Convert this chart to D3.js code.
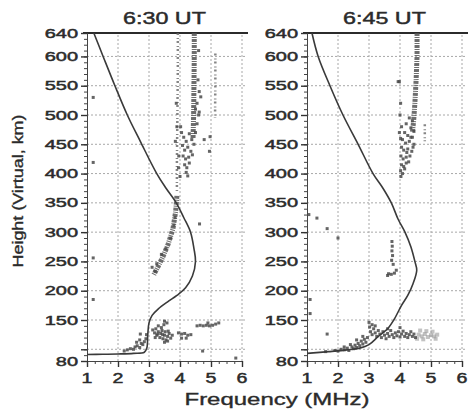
<!DOCTYPE html>
<html><head><meta charset="utf-8">
<script src="https://cdn.jsdelivr.net/npm/d3@7"></script>
<style>body{margin:0;background:#fff}svg{display:block}</style>
</head><body><svg id="c" width="468" height="414"></svg>
<script>
// ---------- data ----------
const freqTicks = [1, 2, 3, 4, 5, 6];
const heightTicks = [80, 150, 200, 250, 300, 350, 400, 450, 500, 550, 600, 640];
const gridHeights = [100, 150, 200, 250, 300, 350, 400, 450, 500, 550, 600];
const panelTitles = ["6:30 UT", "6:45 UT"];
const xLabel = "Frequency (MHz)";
const yLabel = "Height (Virtual, km)";

// model virtual-height curves [MHz, km]
const curve630 = [[1.0,91],[1.5,91.5],[2.0,92],[2.5,93],[2.85,95],[2.93,102],[2.96,125],[3.0,145],[3.1,158],[3.3,169],[3.6,181],[3.9,192],[4.18,205],[4.4,225],[4.5,250],[4.45,272],[4.34,300],[4.12,325],[3.88,350],[3.55,375],[3.25,400],[2.72,455],[2.3,500],[1.9,550],[1.52,600],[1.22,640]];
const curve645 = [[1.0,93],[1.7,96],[2.3,99],[2.7,102],[3.0,108],[3.3,122],[3.6,135],[3.8,150],[4.05,175],[4.25,192],[4.42,212],[4.54,235],[4.48,250],[4.35,275],[4.16,300],[3.94,322],[3.72,350],[3.45,375],[3.13,400],[2.65,450],[2.16,500],[1.74,550],[1.36,600],[1.16,640]];

// observed echo traces (centre lines) [MHz, km]
const trace630Dense = [[4.46,640],[4.46,600],[4.45,550],[4.44,500],[4.42,460]];
const trace630Sparse = [[3.93,640],[3.93,580],[3.92,520],[3.91,470],[3.9,420],[3.9,370]];
const trace630Lower = [[3.9,362],[3.86,335],[3.77,305],[3.62,280],[3.45,258],[3.3,242],[3.15,227]];
const trace630Far = [[5.14,605],[5.14,550],[5.13,495]];
const trace645Dense = [[4.55,640],[4.55,600],[4.52,560],[4.48,520],[4.44,490],[4.4,470]];
const trace645Far = [[4.8,484],[4.8,455]];

// scattered echoes [MHz, km]
const dots630 = [
  [4.05,470],[4.12,462],[4.2,455],[4.3,468],[4.38,458],[4.5,470],[4.08,448],[4.15,440],[4.25,445],[4.35,438],[4.45,450],
  [4.1,430],[4.18,425],[4.28,428],[4.4,432],[4.15,415],[4.22,410],[4.3,418],[4.2,402],[4.25,396],[4.02,480],[4.55,485],
  [4.6,500],[4.55,520],[4.62,540],[4.5,510],[4.67,531],[4.62,505],[4.58,560],[4.78,458],[4.97,463],[4.95,438],[4.6,610],
  [3.88,520],[3.9,480],[3.85,455],[3.96,430],[4.0,395],[3.95,410],
  [3.1,240],[3.2,233],[3.25,246],[3.4,262],[3.55,272],[3.7,290],[3.8,312],[3.84,325],
  [3.12,133],[3.18,128],[3.22,135],[3.25,124],[3.3,130],[3.35,120],[3.38,127],[3.42,132],[3.45,118],[3.5,124],[3.52,130],
  [3.55,116],[3.6,122],[3.65,127],[3.7,119],[3.75,124],[3.4,137],[3.3,140],[3.5,112],[3.6,114],[3.2,120],[3.48,142],
  [3.5,148],[3.58,145],[3.28,126],[3.44,125],[3.62,131],
  [3.95,128],[4.05,126],[4.15,127],[4.25,124],[4.35,125],[4.05,119],[4.2,119],
  [4.55,140],[4.65,141],[4.75,140],[4.85,141],[4.95,140],[5.05,141],[5.15,143],[5.25,145],[4.9,145],
  [2.2,97],[2.3,99],[2.4,101],[2.5,100],[2.55,104],[2.62,106],[2.7,103],[2.75,110],[2.8,108],[2.85,113],[2.9,118],
  [2.7,116],[2.6,112],[2.92,125],[2.72,126],
  [1.2,530],[1.2,419],[1.2,256],[1.2,185],[4.63,314],[4.73,97],[5.8,85]
];
const dots645 = [
  [4.3,495],[4.4,490],[4.2,485],[4.35,478],[4.45,472],[4.15,470],[4.25,465],[4.4,462],[4.08,458],[4.18,452],[4.3,455],
  [4.45,450],[4.05,445],[4.12,440],[4.25,442],[4.38,438],[4.03,430],[4.1,425],[4.2,428],[4.32,430],[4.05,415],[4.12,412],
  [4.2,418],[4.02,405],[4.08,400],[4.03,395],[4.15,408],[4.42,445],[4.28,420],[4.22,436],[4.35,462],
  [3.98,557],[4.02,520],[4.0,500],[4.05,480],[3.98,470],[4.02,460],
  [3.74,284],[3.75,276],[3.74,268],[3.76,260],[3.73,252],[3.78,245],[3.6,226],[3.63,229],[3.72,228],[3.82,230],[3.88,235],
  [3.0,146],[3.02,138],[3.05,130],[3.1,125],[3.15,135],[3.2,128],[3.25,122],[3.3,132],[3.35,126],[3.4,120],[3.45,130],
  [3.5,124],[3.55,118],[3.6,127],[3.65,122],[3.7,132],[3.75,125],[3.8,120],[3.85,128],[3.9,123],[3.95,130],[4.0,121],
  [4.05,126],[4.1,131],[4.15,122],[4.2,127],[4.25,120],[4.3,125],[4.35,130],[4.4,122],[4.45,126],[4.5,120],[3.2,140],
  [3.1,142],[4.0,137],[3.6,135],
  [1.6,96],[1.9,98],[2.0,97],[2.1,100],[2.2,99],[2.3,102],[2.35,98],[2.45,104],[2.5,101],[2.55,107],[2.6,103],[2.65,110],
  [2.7,106],[2.75,114],[2.8,109],[2.85,117],[2.9,112],[2.95,120],[2.6,116],[2.8,122],[2.4,108],[2.2,104],
  [1.06,330],[1.32,324],[1.65,306],[2.0,290],[1.1,185],[1.1,161],[1.65,126],[3.94,557]
];
const faint645 = [[4.6,125],[4.7,122],[4.8,126],[4.9,121],[5.0,124],[5.1,122],[5.2,125],[4.65,132],[4.85,131],[5.05,130],[4.55,118],[4.75,117],[5.15,118]];

// ---------- drawing ----------
const svg = d3.select("#c");
const ink = "#2b2b2b";
const y = d3.scaleLinear().domain([80, 640]).range([361, 33]);

const panels = [
  {title: panelTitles[0], x: d3.scaleLinear().domain([1, 6]).range([87, 242]),
   curve: curve630, dense: [trace630Dense, trace630Lower], sparse: [trace630Sparse, trace630Far], dots: dots630, faint: []},
  {title: panelTitles[1], x: d3.scaleLinear().domain([1, 6]).range([307, 462]),
   curve: curve645, dense: [trace645Dense], sparse: [trace645Far], dots: dots645, faint: faint645}
];

function wideText(g, str, px, py, size, sx, anchor) {
  return g.append("text")
    .attr("transform", `translate(${px},${py}) scale(${sx},1)`)
    .attr("text-anchor", anchor)
    .attr("font-family", "Liberation Sans, Arial, sans-serif")
    .attr("font-size", size).attr("fill", ink)
    .attr("stroke", ink).attr("stroke-width", 0.45).text(str);
}

panels.forEach(p => {
  const g = svg.append("g");
  const x = p.x;
  const [x0, x1] = x.range();

  // grid
  g.selectAll(".gx").data(freqTicks.slice(1)).join("line")
    .attr("x1", d => x(d)).attr("x2", d => x(d)).attr("y1", y(80)).attr("y2", y(640))
    .attr("stroke", "#a8a8a8").attr("stroke-width", 1).attr("stroke-dasharray", "2,2");
  g.selectAll(".gy").data(gridHeights).join("line")
    .attr("x1", x0).attr("x2", x1 + 4).attr("y1", d => y(d)).attr("y2", d => y(d))
    .attr("stroke", "#a8a8a8").attr("stroke-width", 1).attr("stroke-dasharray", "2,2");

  // top border
  g.append("line").attr("x1", x0 - 4).attr("x2", x1 + 6).attr("y1", y(640)).attr("y2", y(640))
    .attr("stroke", ink).attr("stroke-width", 2);

  // y axis with minor ticks
  const yAxis = d3.axisLeft(y).tickValues(d3.range(80, 641, 10)).tickSize(3).tickFormat("");
  g.append("g").attr("transform", `translate(${x0},0)`).call(yAxis)
    .call(s => s.selectAll("line,path").attr("stroke", "#444"));
  const yMajor = d3.axisLeft(y).tickValues(heightTicks.concat([100])).tickSize(6).tickFormat("");
  g.append("g").attr("transform", `translate(${x0},0)`).call(yMajor)
    .call(s => s.select(".domain").remove())
    .call(s => s.selectAll("line").attr("stroke", "#333").attr("stroke-width", 1.4));
  heightTicks.forEach(h => wideText(g, String(h), x0 - 9, y(h) + 4.5, 12.5, 1.6, "end"));

  // x axis
  const xAxis = d3.axisBottom(x).tickValues(d3.range(1, 6.01, 0.25)).tickSize(3).tickFormat("");
  g.append("g").attr("transform", `translate(0,${y(80)})`).call(xAxis)
    .call(s => s.selectAll("line,path").attr("stroke", "#444"));
  const xMajor = d3.axisBottom(x).tickValues(freqTicks).tickSize(6).tickFormat("");
  g.append("g").attr("transform", `translate(0,${y(80)})`).call(xMajor)
    .call(s => s.select(".domain").remove())
    .call(s => s.selectAll("line").attr("stroke", "#333").attr("stroke-width", 1.4));
  freqTicks.forEach(f => wideText(g, String(f), x(f), 383, 14, 1.4, "middle"));

  // title
  wideText(g, p.title, (x0 + x1) / 2, 24, 17, 1.37, "middle");

  const line = d3.line().x(d => x(d[0])).y(d => y(d[1]));

  // echo traces
  p.dense.forEach(t => g.append("path").attr("d", line(t)).attr("fill", "none")
    .attr("stroke", "#555").attr("stroke-width", 5).attr("stroke-dasharray", "3,1,1,1").attr("opacity", 0.85));
  p.sparse.forEach(t => g.append("path").attr("d", line(t)).attr("fill", "none")
    .attr("stroke", "#666").attr("stroke-width", 2.5).attr("stroke-dasharray", "2,3,1,2").attr("opacity", 0.8));

  g.selectAll(".faint").data(p.faint).join("rect")
    .attr("x", d => x(d[0]) - 2).attr("y", d => y(d[1]) - 2).attr("width", 4).attr("height", 4)
    .attr("fill", "#999").attr("opacity", 0.6);
  g.selectAll(".dot").data(p.dots).join("rect")
    .attr("x", d => x(d[0]) - 1.5).attr("y", d => y(d[1]) - 1.5).attr("width", 3).attr("height", 3)
    .attr("fill", "#4a4a4a").attr("opacity", 0.85);

  // model curve
  g.append("path").attr("d", line.curve(d3.curveCatmullRom.alpha(0.5))(p.curve))
    .attr("fill", "none").attr("stroke", "#3a3a3a").attr("stroke-width", 1.6);
});

// axis titles
svg.append("text").attr("x", 277).attr("y", 405).attr("text-anchor", "middle")
  .attr("font-family", "Liberation Sans, Arial, sans-serif").attr("font-size", 16.5)
  .attr("textLength", 185).attr("lengthAdjust", "spacingAndGlyphs").attr("fill", ink)
  .attr("stroke", ink).attr("stroke-width", 0.35).text(xLabel);
svg.append("text").attr("transform", "translate(23,191) rotate(-90)").attr("text-anchor", "middle")
  .attr("font-family", "Liberation Sans, Arial, sans-serif").attr("font-size", 15.5)
  .attr("textLength", 153).attr("lengthAdjust", "spacingAndGlyphs").attr("fill", ink)
  .attr("stroke", ink).attr("stroke-width", 0.35).text(yLabel);
</script></body></html>
